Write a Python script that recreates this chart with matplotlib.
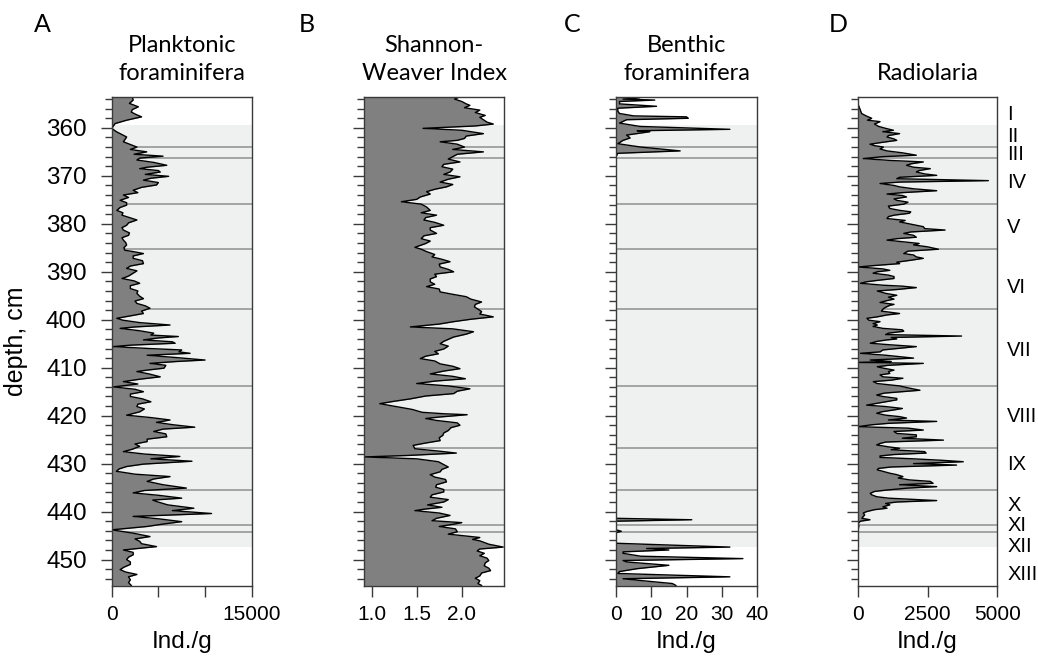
import numpy as np
import matplotlib
matplotlib.use("Agg")
import matplotlib.pyplot as plt
from matplotlib.ticker import MultipleLocator, FixedLocator, FixedFormatter

# ---------------- data ----------------
plank_depth = [353.5, 354.2, 354.9, 355.6, 356.2, 356.7, 357.2, 357.7, 358.4, 359.1, 360.1, 360.8, 361.9, 362.9,
               364.0, 364.5, 365.0, 365.5, 365.9, 366.3, 366.7, 367.2, 367.8, 368.2, 368.5, 368.9, 369.2, 369.7,
               370.1, 370.5, 370.9, 371.4, 371.9, 372.4, 373.0, 373.5, 374.0, 374.5, 375.1, 375.6, 376.1, 376.6,
               377.2, 377.7, 378.2, 378.7, 379.2, 379.8, 380.3, 380.8, 381.3, 381.9, 382.4, 382.9, 383.4, 383.9,
               384.4, 385.0, 385.5, 385.9, 386.2, 386.7, 387.2, 387.7, 388.3, 388.8, 389.3, 389.8, 390.3, 390.9,
               391.4, 391.9, 392.4, 392.9, 393.5, 394.0, 394.5, 395.1, 395.6, 396.1, 396.6, 397.1, 397.6, 398.2,
               398.7, 399.2, 399.7, 400.1, 400.6, 401.1, 401.5, 401.8, 402.3, 402.8, 403.2, 403.5, 403.8, 404.2,
               404.6, 404.9, 405.3, 405.6, 406.0, 406.3, 406.7, 407.0, 407.4, 407.9, 408.4, 408.7, 409.1, 409.5,
               410.1, 410.5, 410.8, 411.3, 411.9, 412.4, 412.9, 413.4, 414.0, 414.5, 415.0, 415.5, 416.0, 416.5,
               417.1, 417.6, 418.1, 418.6, 419.2, 419.9, 420.4, 420.9, 421.4, 421.9, 422.4, 422.8, 423.3, 423.8,
               424.4, 424.9, 425.4, 425.9, 426.4, 427.0, 427.5, 428.0, 428.5, 429.0, 429.5, 430.1, 430.6, 431.1,
               431.6, 432.2, 432.7, 433.2, 433.7, 434.4, 435.1, 435.6, 436.1, 436.6, 437.2, 437.6, 437.9, 438.6,
               439.3, 439.8, 440.4, 441.0, 441.5, 442.1, 442.6, 443.1, 443.8, 444.5, 445.2, 445.7, 446.2, 446.7,
               447.3, 448.0, 448.5, 449.0, 449.5, 450.0, 450.5, 451.0, 451.6, 452.1, 452.6, 453.1, 453.6, 454.2,
               454.8, 455.4]
plank_ind = [2200, 2300, 1900, 2850, 2200, 2100, 2600, 3200, 1600, 360, 0, 500, 1600, 1250,
             2700, 2000, 3750, 2400, 5500, 3000, 2700, 4500, 5900, 3800, 3000, 5000, 5200, 3600,
             6100, 4200, 3400, 5000, 4800, 3200, 2300, 2800, 1250, 1800, 900, 1600, 1600, 900,
             550, 1200, 1100, 1900, 2700, 1800, 1600, 1100, 1250, 1900, 1800, 1100, 1250, 1500,
             1600, 1300, 1400, 2600, 3400, 2300, 2300, 3300, 3400, 2000, 1600, 2700, 2300, 1800,
             1100, 2400, 3000, 2000, 2000, 2800, 2700, 3000, 3400, 2500, 2700, 3600, 4100, 3200,
             3400, 2000, 550, 1200, 3000, 6250, 2500, 900, 3000, 4500, 4200, 7140, 5000, 3400,
             6500, 6800, 2000, 180, 4000, 7500, 7200, 8400, 3800, 7000, 10000, 7000, 4100, 5800,
             5600, 3800, 2700, 4000, 5200, 3000, 1250, 2800, 200, 2500, 3400, 2000, 2000, 3300,
             4200, 2800, 2700, 3500, 3000, 1600, 4200, 6250, 4800, 6600, 8900, 5500, 4500, 5800,
             5900, 3800, 3800, 2500, 3000, 2200, 1250, 3500, 7300, 4200, 8600, 3400, 1600, 800,
             500, 2500, 6250, 4500, 3800, 5500, 8000, 3500, 2300, 5000, 7500, 4400, 4800, 6000,
             8800, 6500, 10700, 2300, 5000, 7500, 5500, 3800, 0, 2300, 4100, 2500, 3000, 3200,
             4800, 1250, 2300, 2300, 1800, 1600, 2000, 2000, 1300, 900, 1500, 2700, 1800, 2000,
             1800, 2100]

shannon_depth = [353.5, 354.0, 354.5, 355.0, 355.3, 355.8, 356.3, 356.8, 357.4, 357.8, 358.3, 358.8, 359.2, 359.6,
                 360.1, 360.5, 361.2, 361.7, 362.2, 362.6, 362.9, 363.4, 364.0, 364.5, 365.0, 365.5, 366.0, 366.5,
                 367.1, 367.6, 368.1, 368.6, 369.2, 369.7, 370.2, 370.7, 371.3, 371.8, 372.3, 372.8, 373.3, 373.8,
                 374.4, 374.9, 375.4, 375.9, 376.5, 377.2, 377.7, 378.2, 378.7, 379.2, 379.7, 380.3, 380.8, 381.3,
                 382.0, 382.5, 383.1, 383.6, 384.1, 384.9, 385.3, 385.8, 386.4, 386.9, 387.4, 387.9, 388.4, 389.0,
                 389.5, 390.0, 390.5, 391.0, 391.5, 392.1, 392.6, 393.1, 393.6, 394.2, 394.7, 395.2, 395.7, 396.3,
                 396.8, 397.3, 397.8, 398.3, 398.8, 399.4, 399.9, 400.4, 400.9, 401.5, 401.9, 402.5, 403.0, 403.6,
                 404.1, 404.5, 405.0, 405.5, 406.1, 406.6, 407.1, 407.6, 408.1, 408.6, 409.2, 409.7, 410.2, 410.7,
                 411.3, 411.8, 412.3, 412.8, 413.3, 413.8, 414.4, 414.9, 415.4, 415.9, 416.5, 417.0, 417.5, 418.2,
                 418.7, 419.3, 419.6, 419.8, 420.3, 420.6, 421.0, 421.5, 422.0, 422.5, 423.1, 423.6, 424.1, 424.6,
                 425.2, 425.7, 426.2, 426.9, 427.4, 427.8, 428.3, 428.6, 429.0, 429.6, 430.1, 430.7, 431.2, 431.7,
                 432.3, 432.8, 433.3, 433.8, 434.4, 434.9, 435.4, 435.9, 436.5, 437.0, 437.5, 438.0, 438.6, 439.1,
                 439.5, 439.8, 440.3, 440.8, 441.4, 441.9, 442.3, 442.6, 443.1, 443.6, 444.2, 444.7, 445.1, 445.4,
                 445.8, 446.1, 446.8, 447.4, 447.8, 448.2, 448.7, 449.2, 449.7, 450.2, 450.7, 451.3, 451.8, 452.3,
                 452.8, 453.4, 453.9, 454.4, 455.0, 455.4]
shannon_index = [1.98, 1.92, 2.00, 2.05, 2.09, 2.03, 2.20, 2.15, 2.26, 2.20, 2.24, 2.28, 2.35, 2.15,
                 1.57, 2.00, 2.24, 2.05, 2.03, 1.95, 1.76, 1.95, 2.03, 1.90, 2.24, 1.95, 1.90, 1.85,
                 1.98, 1.80, 1.78, 1.90, 1.87, 1.80, 1.98, 1.85, 1.76, 1.90, 1.83, 1.70, 1.61, 1.65,
                 1.54, 1.50, 1.33, 1.55, 1.61, 1.65, 1.55, 1.72, 1.60, 1.58, 1.70, 1.80, 1.65, 1.65,
                 1.72, 1.58, 1.55, 1.65, 1.60, 1.48, 1.55, 1.61, 1.70, 1.67, 1.78, 1.87, 1.75, 1.76,
                 1.85, 1.91, 1.70, 1.72, 1.65, 1.65, 1.70, 1.61, 1.75, 1.76, 1.90, 2.05, 2.10, 2.22,
                 2.15, 2.14, 2.18, 2.22, 2.20, 2.35, 2.10, 1.91, 1.75, 1.43, 1.90, 2.13, 2.05, 1.91,
                 1.85, 1.80, 1.76, 1.85, 1.80, 1.70, 1.74, 1.60, 1.54, 1.70, 1.76, 1.90, 1.98, 1.80,
                 1.65, 1.90, 2.04, 1.70, 1.50, 1.85, 2.09, 1.95, 1.91, 1.60, 1.43, 1.25, 1.09, 1.30,
                 1.45, 1.56, 1.80, 2.06, 1.74, 1.60, 1.72, 1.95, 1.98, 1.88, 1.85, 1.80, 1.79, 1.75,
                 1.76, 1.60, 1.46, 1.48, 1.75, 1.94, 1.40, 0.92, 1.50, 1.74, 1.79, 1.85, 1.78, 1.76,
                 1.65, 1.70, 1.82, 1.83, 1.72, 1.71, 1.80, 1.80, 1.67, 1.65, 1.85, 1.80, 1.62, 1.78,
                 1.58, 1.48, 1.75, 1.87, 1.72, 1.67, 2.00, 1.92, 1.75, 1.93, 1.95, 1.85, 2.05, 2.20,
                 2.12, 2.20, 2.30, 2.46, 2.20, 2.17, 2.25, 2.20, 2.28, 2.30, 2.26, 2.25, 2.30, 2.32,
                 2.22, 2.20, 2.15, 2.20, 2.18, 2.22]

benth_depth = [353.5, 353.7, 354.0, 354.2, 354.5, 355.0, 355.5, 355.9, 356.5, 357.0, 357.5, 357.7, 358.0, 358.3,
               359.0, 359.7, 360.3, 360.6, 360.8, 361.5, 362.1, 362.6, 363.3, 364.0, 364.8, 365.3, 366.0, 441.4,
               441.7, 442.0, 443.8, 444.1, 444.4, 446.6, 447.4, 447.7, 448.0, 448.4, 448.7, 449.3, 449.8, 450.2,
               450.5, 451.2, 451.9, 452.5, 452.9, 453.6, 454.0, 454.3, 455.0, 455.4]
benth_ind = [1, 6.8, 2, 11, 1, 1, 11.5, 0.5, 0.5, 1, 5, 20, 20.5, 3,
             1, 6.8, 32.3, 6, 9.6, 3, 4, 2, 0.5, 7, 18.2, 0.5, 0, 0,
             21.5, 0, 0, 1.5, 0, 0, 32.3, 8.7, 15, 2, 2, 7, 36, 2,
             3, 15, 6, 1, 0.5, 32.3, 2, 6, 16, 17]

radio_depth = [353.5, 355.0, 357.0, 357.5, 358.0, 358.4, 358.7, 359.2, 359.7, 360.1, 360.5, 360.8, 361.2, 361.6,
               361.9, 362.3, 362.6, 363.0, 363.4, 363.7, 364.0, 364.4, 364.8, 365.2, 365.7, 366.0, 366.4, 366.8,
               367.1, 367.5, 367.8, 368.2, 368.5, 368.9, 369.2, 369.6, 369.9, 370.3, 370.6, 371.0, 371.3, 371.6,
               372.0, 372.3, 372.7, 373.1, 373.5, 373.8, 374.1, 374.4, 374.8, 375.1, 375.5, 375.9, 376.3, 376.8,
               377.2, 377.5, 377.8, 378.2, 378.5, 378.9, 379.3, 379.6, 379.9, 380.3, 380.6, 381.0, 381.3, 381.7,
               382.0, 382.4, 382.8, 383.1, 383.4, 383.8, 384.1, 384.4, 384.8, 385.3, 385.7, 386.2, 386.5, 386.9,
               387.2, 387.6, 388.0, 388.3, 388.7, 389.0, 389.4, 389.7, 390.0, 390.3, 390.7, 391.0, 391.4, 391.8,
               392.1, 392.4, 392.8, 393.0, 393.3, 393.7, 394.0, 394.5, 394.9, 395.3, 395.7, 396.0, 396.4, 396.8,
               397.0, 397.4, 397.8, 398.2, 398.7, 399.0, 399.4, 399.7, 400.1, 400.4, 400.8, 401.1, 401.4, 401.8,
               402.1, 402.4, 402.8, 403.1, 403.4, 403.7, 404.0, 404.2, 404.5, 404.9, 405.2, 405.6, 406.0, 406.3,
               406.7, 407.0, 407.4, 407.7, 408.0, 408.4, 408.7, 408.9, 409.1, 409.5, 409.8, 410.1, 410.5, 410.8,
               411.2, 411.5, 411.9, 412.2, 412.6, 412.9, 413.3, 413.8, 414.2, 414.7, 415.0, 415.3, 415.7, 416.0,
               416.4, 416.7, 417.1, 417.4, 417.8, 418.1, 418.5, 418.8, 419.2, 419.5, 419.9, 420.2, 420.5, 420.9,
               421.2, 421.6, 421.9, 422.3, 422.6, 423.0, 423.3, 423.7, 424.0, 424.4, 424.7, 425.1, 425.5, 425.8,
               426.1, 426.5, 426.8, 427.1, 427.5, 427.8, 428.1, 428.4, 428.7, 429.0, 429.3, 429.6, 430.0, 430.3,
               430.7, 431.0, 431.3, 431.6, 432.0, 432.3, 432.7, 433.0, 433.4, 433.7, 434.1, 434.4, 434.8, 435.1,
               435.5, 435.8, 436.2, 436.5, 436.9, 437.2, 437.7, 438.0, 438.3, 438.6, 439.0, 439.3, 439.6, 440.0,
               440.3, 440.7, 441.0, 441.4, 441.7, 442.0, 442.4, 443.0, 444.0, 446.0, 448.0, 450.0, 455.4]
radio_ind = [0, 10, 140, 300, 500, 350, 800, 600, 750, 1000, 1280, 900, 1500, 1100,
             1050, 1300, 1400, 900, 440, 600, 920, 800, 1050, 1600, 2100, 900, 200, 1200,
             2350, 1900, 1750, 2000, 2600, 2200, 2100, 2400, 2830, 1500, 1400, 4680, 1500, 800,
             1300, 1500, 2000, 2830, 1600, 1050, 1600, 1750, 1300, 1400, 1800, 1650, 1100, 1150,
             1500, 1900, 1850, 1300, 1100, 1050, 1700, 1500, 1750, 2100, 2350, 2400, 3130, 1900,
             1650, 2000, 2100, 1400, 1050, 1700, 2200, 2000, 2500, 2890, 1800, 1650, 2000, 2100,
             2350, 1900, 1400, 1500, 600, 20, 900, 1150, 700, 550, 1100, 1300, 1300, 700,
             300, 100, 900, 1600, 2100, 1400, 700, 1000, 1400, 1100, 1300, 1050, 800, 1300,
             1150, 1000, 900, 850, 1500, 1050, 700, 330, 400, 800, 550, 700, 550, 900,
             1600, 1650, 1100, 1000, 3720, 1200, 1400, 1050, 700, 450, 1100, 2100, 1400, 900,
             800, 100, 1000, 1500, 2000, 450, 1200, 10, 2350, 1100, 700, 920, 1300, 1100,
             1150, 800, 900, 1620, 1200, 560, 700, 1500, 1800, 2230, 1600, 950, 680, 900,
             1400, 1400, 1000, 700, 320, 1000, 1600, 1300, 850, 680, 1000, 1500, 1750, 1100,
             2830, 1100, 500, 0, 1800, 2350, 1300, 1400, 2100, 2100, 1600, 3070, 1000, 800,
             680, 1100, 1500, 1200, 2400, 2450, 1300, 800, 800, 2000, 3000, 3780, 2000, 3540,
             1200, 740, 700, 900, 1150, 1400, 1620, 1450, 1860, 2600, 2700, 1500, 2830, 1800,
             1050, 600, 450, 500, 680, 1100, 2830, 1400, 1000, 1150, 900, 1050, 600, 320,
             200, 250, 200, 150, 440, 100, 20, 40, 10, 10, 5, 5, 5]

zone_top, zone_bottom = 359.4, 447.3
zone_bounds = [364.0, 366.2, 375.9, 385.3, 397.8, 413.8, 426.7, 435.5, 442.7, 444.3]
zone_names = ["I", "II", "III", "IV", "V", "VI", "VII", "VIII", "IX", "X", "XI", "XII", "XIII"]
zone_label_depth = [357.2, 361.8, 365.5, 371.3, 380.8, 393.2, 406.5, 420.2, 430.2, 438.7, 443.0, 447.3, 453.1]

depth_lim = (455.45, 353.5)

# ---------------- style ----------------
W, H = 1038, 657
fig = plt.figure(figsize=(W / 100, H / 100), dpi=100)

tick_font = ["Liberation Sans", "DejaVu Sans"]
head_font = ["Lato", "DejaVu Sans"]
FILL = "#808080"
BAND = "#eef1f0"
ZLINE = "#8e8e8e"
SPINE = "#3a3a3a"

panels = [
    dict(left=111.7, width=140.0, depth=plank_depth, val=plank_ind, xlim=(0, 15000),
         ticks=[0, 5000, 10000, 15000], labels=["0", "", "", "15000"],
         title=["Planktonic", "foraminifera"], letter="A", lx=42, xlabel="Ind./g"),
    dict(left=364.0, width=140.3, depth=shannon_depth, val=shannon_index, xlim=(0.915, 2.472),
         ticks=[1.0, 1.5, 2.0], labels=["1.0", "1.5", "2.0"],
         title=["Shannon-", "Weaver Index"], letter="B", lx=307, xlabel=""),
    dict(left=616.0, width=141.0, depth=benth_depth, val=benth_ind, xlim=(0, 40),
         ticks=[0, 10, 20, 30, 40], labels=["0", "10", "20", "30", "40"],
         title=["Benthic", "foraminifera"], letter="C", lx=572, xlabel="Ind./g"),
    dict(left=857.7, width=139.6, depth=radio_depth, val=radio_ind, xlim=(0, 5000),
         ticks=[0, 2500, 5000], labels=["0", "2500", "5000"],
         title=["", "Radiolaria"], letter="D", lx=838, xlabel="Ind./g"),
]

ax_top, ax_bot = 96.7, 585.7

for i, p in enumerate(panels):
    ax = fig.add_axes([p["left"] / W, 1 - ax_bot / H, p["width"] / W, (ax_bot - ax_top) / H])
    x0, x1 = p["xlim"]
    # zone band and boundaries
    ax.axhspan(zone_top, zone_bottom, color=BAND, lw=0, zorder=0)
    for zb in zone_bounds:
        ax.axhline(zb, color=ZLINE, lw=1.1, zorder=1)
    # profile
    ax.fill_betweenx(p["depth"], x0, p["val"], color=FILL, lw=0, zorder=2)
    ax.plot(p["val"], p["depth"], color="black", lw=1.0, zorder=3)

    ax.set_xlim(x0, x1)
    ax.set_ylim(*depth_lim)

    ax.yaxis.set_major_locator(MultipleLocator(10))
    ax.yaxis.set_minor_locator(MultipleLocator(2))
    ax.tick_params(axis="y", which="major", direction="out", length=8, width=1.0,
                   color=SPINE, pad=10, labelsize=17.5)
    ax.tick_params(axis="y", which="minor", direction="out", length=5, width=1.0, color=SPINE)
    ax.xaxis.set_major_locator(FixedLocator(p["ticks"]))
    ax.xaxis.set_major_formatter(FixedFormatter(p["labels"]))
    ax.tick_params(axis="x", which="major", direction="out", length=8, width=1.0,
                   color=SPINE, pad=6, labelsize=15)
    for lab in ax.get_xticklabels() + ax.get_yticklabels():
        lab.set_family(tick_font)
    if i > 0:
        ax.tick_params(axis="y", which="both", labelleft=False)
    for s in ax.spines.values():
        s.set_color(SPINE)
        s.set_linewidth(1.0)
        s.set_zorder(4)

    if p["xlabel"]:
        ax.set_xlabel(p["xlabel"], family=tick_font, fontsize=17.5, labelpad=5)
    if i == 0:
        ax.set_ylabel("depth, cm", family=tick_font, fontsize=18, labelpad=13)

    cx = (p["left"] + p["width"] / 2) / W
    if p["title"][0]:
        fig.text(cx, 1 - 46 / H, p["title"][0], ha="center", va="center",
                 family=head_font, fontsize=17)
    fig.text(cx, 1 - 74 / H, p["title"][1], ha="center", va="center",
             family=head_font, fontsize=17)
    fig.text(p["lx"] / W, 1 - 25 / H, p["letter"], ha="center", va="center",
             family=head_font, fontsize=18)

    if i == 3:
        for name, d in zip(zone_names, zone_label_depth):
            ax.text(1.07, d, name, transform=ax.get_yaxis_transform(), ha="left", va="center",
                    family=tick_font, fontsize=14.5, clip_on=False)

fig.savefig("out.png", dpi=100)
